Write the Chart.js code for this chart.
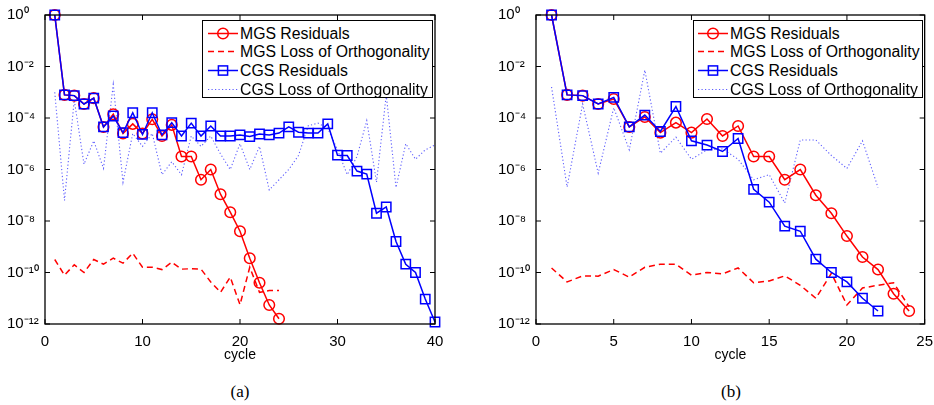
<!DOCTYPE html>
<html><head><meta charset="utf-8">
<script src="https://cdn.jsdelivr.net/npm/chart.js@4.4.0/dist/chart.umd.min.js"></script>
<style>
body{margin:0;background:#fff;width:934px;height:405px;position:relative;overflow:hidden;font-family:"Liberation Sans",Arial,sans-serif;}
canvas{position:absolute;top:0;}
.legend{position:absolute;top:20px;height:78px;border:1px solid #000;background:#fff;box-sizing:border-box;}
.row{position:absolute;left:0;height:19px;font-size:15.8px;line-height:19px;white-space:nowrap;color:#000;}
.row svg{position:absolute;top:0;left:0;}
.row span{position:absolute;top:0;}
.cap{position:absolute;top:382px;font-family:"Liberation Serif","DejaVu Serif",serif;font-size:17px;transform:translateX(-50%);}
</style></head><body>
<canvas id="ca" width="467" height="370" style="left:0"></canvas>
<canvas id="cb" width="467" height="370" style="left:467px"></canvas>
<div class="cap" style="left:240px">(a)</div>
<div class="cap" style="left:731px">(b)</div>
<script>
// ---- data ----
const cyclesA = [1,2,3,4,5,6,7,8,9,10,11,12,13,14,15,16,17,18,19,20,21,22,23,24,25,26,27,28,29,30,31,32,33,34,35,36,37,38,39,40];
const mgsResA = [1,7.9e-4,7.4e-4,3.5e-4,5.9e-4,4.5e-5,1.4e-4,2.5e-5,5.9e-5,2.5e-5,8.9e-5,2.0e-5,5.4e-5,3.2e-6,3.2e-6,4.0e-7,1.0e-6,1.1e-7,2.2e-8,4.0e-9,3.6e-10,4.0e-11,5.5e-12,1.6e-12];
const mgsLooA = [3.2e-10,7.9e-11,2.0e-10,1.0e-10,3.2e-10,2.1e-10,3.6e-10,2.3e-10,5.6e-10,1.6e-10,1.6e-10,1.3e-10,2.5e-10,1.35e-10,1.4e-10,1.35e-10,4.3e-11,1.7e-11,6.6e-11,5.6e-12,1.6e-10,1.7e-11,2.0e-11,2.0e-11];
const cgsResA = [1,7.9e-4,7.4e-4,3.5e-4,5.9e-4,4.5e-5,1.2e-4,2.7e-5,1.6e-4,2.3e-5,1.6e-4,2.2e-5,6.6e-5,2.0e-5,6.3e-5,2.0e-5,4.9e-5,2.0e-5,2.0e-5,2.2e-5,1.9e-5,2.4e-5,2.2e-5,2.6e-5,4.5e-5,2.8e-5,2.6e-5,2.6e-5,5.9e-5,3.6e-6,3.5e-6,8.7e-7,6.6e-7,2.0e-8,3.5e-8,1.6e-9,2.1e-10,1.0e-10,9.3e-12,1.2e-12];
const cgsLooA = [1.0e-3,6.3e-8,5.0e-4,1.6e-6,1.3e-5,1.1e-6,2.0e-3,3.2e-7,2.5e-5,7.9e-6,2.5e-5,6.3e-7,2.0e-6,6.3e-7,2.0e-5,7.9e-6,2.0e-5,4.0e-6,1.0e-6,1.0e-5,1.0e-6,7.9e-6,1.6e-7,4.0e-7,1.0e-6,3.5e-6,5.0e-5,6.3e-5,4.0e-5,5.8e-6,6.3e-7,3.2e-6,7.9e-5,3.2e-7,7.9e-4,2.0e-7,1.0e-5,2.5e-6,5.8e-6,8.9e-6];

const cyclesB = [1,2,3,4,5,6,7,8,9,10,11,12,13,14,15,16,17,18,19,20,21,22,23,24];
const mgsResB = [1,7.9e-4,7.4e-4,3.5e-4,5.5e-4,4.5e-5,1.1e-4,2.7e-5,6.6e-5,2.7e-5,9.1e-5,2.0e-5,4.9e-5,3.2e-6,3.2e-6,4.0e-7,1.0e-6,1.0e-7,2.0e-8,2.6e-9,4.0e-10,1.3e-10,1.5e-11,3.2e-12];
const mgsLooB = [1.5e-10,4.3e-11,7.4e-11,7.2e-11,1.3e-10,6.6e-11,1.6e-10,2.1e-10,2.1e-10,7.9e-11,1.0e-10,8.9e-11,1.5e-10,4.0e-11,4.7e-11,7.4e-11,3.2e-11,1.0e-11,9.3e-11,5.5e-12,2.5e-11,3.2e-11,4.0e-11,4.7e-12];
const cgsResB = [1,7.9e-4,7.4e-4,3.5e-4,6.3e-4,4.5e-5,1.3e-4,3.0e-5,2.8e-4,1.3e-5,8.9e-6,5.0e-6,1.6e-5,1.7e-7,5.4e-8,6.3e-9,4.0e-9,3.3e-10,1.0e-10,4.3e-11,1.0e-11,3.2e-12];
const cgsLooB = [1.6e-3,2.1e-7,3.5e-4,7.2e-7,2.5e-4,5.8e-6,7.2e-3,4.3e-6,1.8e-5,2.5e-6,5.8e-6,6.3e-6,2.5e-6,4.0e-7,6.3e-7,5.0e-8,1.4e-5,1.4e-5,3.5e-6,1.1e-6,1.3e-5,2.0e-7];

const xTicksA = [0,10,20,30,40];
const xTicksB = [0,5,10,15,20,25];
const yTicks = [1e-12,1e-10,1e-8,1e-6,1e-4,1e-2,1];
const seriesNames = ['MGS Residuals','MGS Loss of Orthogonality','CGS Residuals','CGS Loss of Orthogonality'];

// ---- rendering ----
Chart.defaults.font.family = '"Liberation Sans", Arial, sans-serif';
const RED = '#ff0000', BLUE = '#0000ff', DOT = 'rgba(40,40,255,0.75)';
const SUP = {'-':'\u207B','0':'\u2070','1':'\u00B9','2':'\u00B2','3':'\u00B3','4':'\u2074','5':'\u2075','6':'\u2076','7':'\u2077','8':'\u2078','9':'\u2079'};
function fmtLog(v){ const e = Math.round(Math.log10(v)); return '10' + String(e).split('').map(c=>SUP[c]).join(''); }

const boxPlugin = {
  id:'box',
  afterDraw(c){
    const {ctx, chartArea:a, scales:{x,y}} = c;
    ctx.save();
    ctx.strokeStyle = '#000'; ctx.lineWidth = 1.3;
    ctx.strokeRect(a.left, a.top, a.right-a.left, a.bottom-a.top);
    ctx.lineWidth = 1;
    const L = 5;
    ctx.beginPath();
    x.ticks.forEach(t=>{ const px = x.getPixelForValue(t.value);
      ctx.moveTo(px, a.bottom); ctx.lineTo(px, a.bottom-L);
      ctx.moveTo(px, a.top); ctx.lineTo(px, a.top+L); });
    y.ticks.forEach(t=>{ const py = y.getPixelForValue(t.value);
      ctx.moveTo(a.left, py); ctx.lineTo(a.left+L, py);
      ctx.moveTo(a.right, py); ctx.lineTo(a.right-L, py); });
    ctx.stroke();
    ctx.restore();
  }
};

function pts(cycles, vals){ return vals.map((v,i)=>({x:cycles[i], y:v})); }

function makeChart(id, cycles, mr, ml, cr, cl, xTicks, xMax, pad){
  new Chart(document.getElementById(id), {
    type:'line',
    data:{ datasets:[
      {label:seriesNames[2], data:pts(cycles,cr), borderColor:BLUE, borderWidth:1.5, pointStyle:'rect', pointRadius:6.6, pointBorderWidth:1.5, pointBorderColor:BLUE, pointBackgroundColor:'rgba(0,0,0,0)', order:0, clip:false},
      {label:seriesNames[0], data:pts(cycles,mr), borderColor:RED, borderWidth:1.5, pointStyle:'circle', pointRadius:5.3, pointBorderWidth:1.5, pointBorderColor:RED, pointBackgroundColor:'rgba(0,0,0,0)', order:1, clip:false},
      {label:seriesNames[3], data:pts(cycles,cl), borderColor:DOT, borderWidth:1.1, borderDash:[1.2,2.3], pointRadius:0, order:2},
      {label:seriesNames[1], data:pts(cycles,ml), borderColor:RED, borderWidth:1.5, borderDash:[6,4], pointRadius:0, order:3}
    ]},
    options:{
      responsive:false, animation:false, devicePixelRatio:1,
      layout:{padding:pad},
      plugins:{legend:{display:false}, tooltip:{enabled:false}},
      scales:{
        x:{type:'linear', min:0, max:xMax,
          afterBuildTicks:s=>{ s.ticks = xTicks.map(v=>({value:v})); },
          grid:{display:false}, border:{display:false},
          ticks:{color:'#000', font:{size:15}, padding:1, maxRotation:0, autoSkip:false},
          title:{display:true, text:'cycle', color:'#000', font:{size:14}, padding:{top:0,bottom:6}},
          afterFit:s=>{ s.height = 46; }},
        y:{type:'logarithmic', min:1e-12, max:1,
          afterBuildTicks:s=>{ s.ticks = yTicks.map(v=>({value:v})); },
          grid:{display:false}, border:{display:false},
          ticks:{color:'#000', font:{size:15}, crossAlign:'far', autoSkip:false, callback:v=>fmtLog(v)},
          afterFit:s=>{ s.width = 38; }}
      }
    },
    plugins:[boxPlugin]
  });
}
makeChart('ca', cyclesA, mgsResA, mgsLooA, cgsResA, cgsLooA, xTicksA, 40, {left:7, top:15, right:32, bottom:0});
makeChart('cb', cyclesB, mgsResB, mgsLooB, cgsResB, cgsLooB, xTicksB, 25, {left:31, top:15, right:8, bottom:0});

// ---- legends (HTML text) ----
function sample(i){
  const w = 32, y = 9.5;
  if(i===0) return `<svg width="${w}" height="19"><line x1="1" y1="${y}" x2="${w-1}" y2="${y}" stroke="${RED}" stroke-width="1.5"/><circle cx="${w/2}" cy="${y}" r="5.3" fill="none" stroke="${RED}" stroke-width="1.5"/></svg>`;
  if(i===1) return `<svg width="${w}" height="19"><line x1="1" y1="${y}" x2="${w-1}" y2="${y}" stroke="${RED}" stroke-width="1.5" stroke-dasharray="6,4"/></svg>`;
  if(i===2) return `<svg width="${w}" height="19"><line x1="1" y1="${y}" x2="${w-1}" y2="${y}" stroke="${BLUE}" stroke-width="1.5"/><rect x="${w/2-4.6}" y="${y-4.6}" width="9.2" height="9.2" fill="none" stroke="${BLUE}" stroke-width="1.5"/></svg>`;
  return `<svg width="${w}" height="19"><line x1="1" y1="${y}" x2="${w-1}" y2="${y}" stroke="${DOT}" stroke-width="1.1" stroke-dasharray="1.2,2.3"/></svg>`;
}
function legend(left, width, sx, tx){
  const d = document.createElement('div');
  d.className = 'legend'; d.style.left = left+'px'; d.style.width = width+'px';
  const rows = [2.5, 21.2, 39.9, 58.6];
  seriesNames.forEach((n,i)=>{
    const r = document.createElement('div'); r.className='row'; r.style.top = rows[i]+'px'; r.style.left = sx+'px';
    r.innerHTML = sample(i) + `<span style="left:${tx-sx}px">${n}</span>`;
    d.appendChild(r);
  });
  document.body.appendChild(d);
}
legend(202, 231, 4, 37);
legend(693, 230, 3, 36);
</script>
</body></html>
